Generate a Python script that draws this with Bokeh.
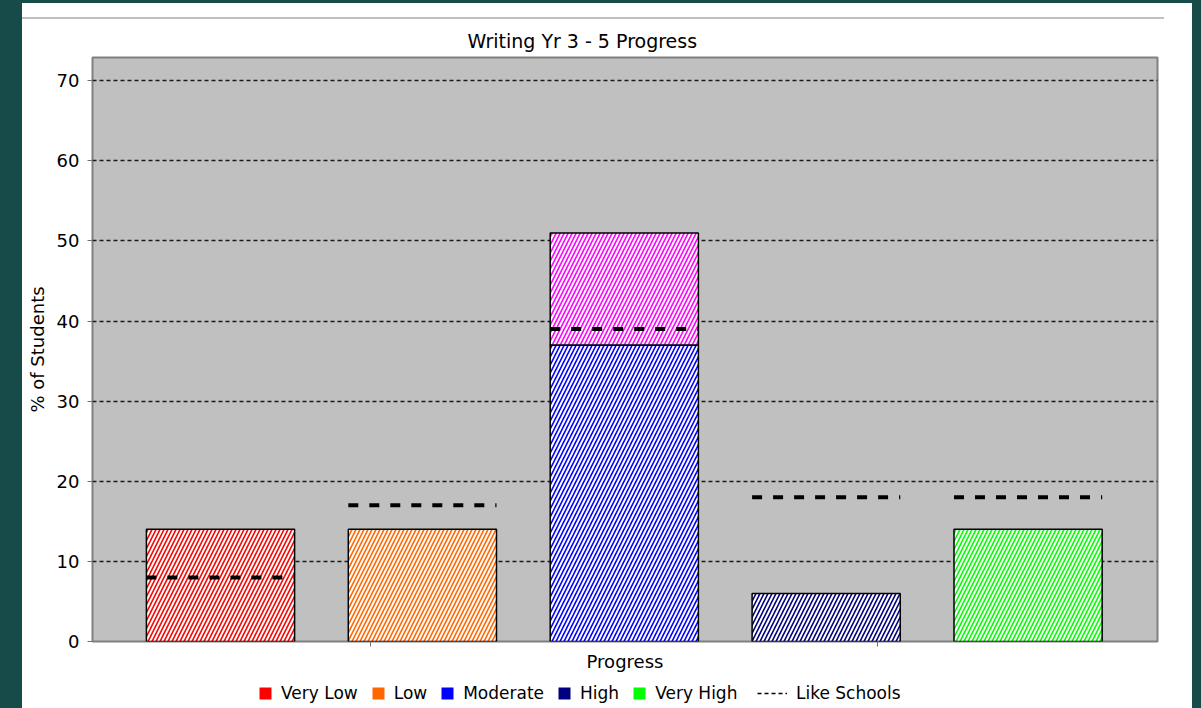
from bokeh.plotting import figure
from bokeh.models import (Range1d, FixedTicker, Legend, LegendItem, Title, Div,
                          GlobalInlineStyleSheet, ColumnDataSource)
from bokeh.layouts import column
from bokeh.embed import file_html
from bokeh.resources import INLINE

# ---- data ----
categories = ["Very Low", "Low", "Moderate", "High", "Very High"]
school_pct = [14, 14, 37, 6, 14]
upper_pct = [0, 0, 14, 0, 0]
like_schools = [8, 17, 39, 18, 18]
bar_colors = ["#ff0000", "#ff6600", "#0000ff", "#000080", "#00ff00"]
upper_color = "#ff00ff"
y_ticks = [0, 10, 20, 30, 40, 50, 60, 70]
grid_ticks = [10, 20, 30, 40, 50, 60, 70]
x_tick_marks = [0.743, 3.254]
legend_label = "Like Schools"

FONT = "DejaVu Sans"
BAR_W = 0.734
xs = list(range(len(categories)))

p = figure(width=1170, height=659, output_backend="svg", toolbar_location=None,
           x_range=Range1d(-0.634, 4.641), y_range=Range1d(0, 72.9),
           min_border_left=70, min_border_right=35, min_border_top=38, min_border_bottom=37,
           background_fill_color="#c0c0c0", border_fill_color="white",
           outline_line_color="#808080", outline_line_width=2)

p.title = Title(text="Writing Yr 3 - 5 Progress", align="left", offset=375,
                text_font=FONT, text_font_size="19px", text_font_style="normal",
                text_color="black", standoff=11)

# grid
p.xgrid.visible = False
p.ygrid.ticker = FixedTicker(ticks=grid_ticks)
p.ygrid.grid_line_color = "#1a1a1a"
p.ygrid.grid_line_dash = "4 3"
p.ygrid.grid_line_width = 1.5

HATCH = dict(hatch_pattern="/", hatch_color="white", hatch_scale=8, hatch_weight=2)

# bars
src = ColumnDataSource(dict(x=xs, top=school_pct, color=bar_colors))
p.vbar(x="x", top="top", bottom=0, width=BAR_W, source=src,
       fill_color="color", line_color="black", line_width=1.5, **HATCH)

ux = [x for x, u in zip(xs, upper_pct) if u > 0]
ub = [s for s, u in zip(school_pct, upper_pct) if u > 0]
ut = [s + u for s, u in zip(school_pct, upper_pct) if u > 0]
p.vbar(x=ux, bottom=ub, top=ut, width=BAR_W, fill_color=upper_color,
       line_color="black", line_width=1.5, **HATCH)

# like schools markers
p.segment(x0=[x - BAR_W / 2 for x in xs], y0=like_schools,
          x1=[x + BAR_W / 2 for x in xs], y1=like_schools,
          line_color="black", line_width=4, line_dash="10 11")

# axes
xa = p.xaxis[0]
xa.ticker = FixedTicker(ticks=[], minor_ticks=x_tick_marks)
xa.major_tick_out = 5
xa.major_tick_in = 0
xa.minor_tick_out = 5
xa.minor_tick_in = 0
xa.minor_tick_line_color = "#707070"
xa.major_tick_line_color = "#707070"
xa.axis_line_color = None
xa.axis_label = "Progress"
xa.axis_label_text_font = FONT
xa.axis_label_text_font_size = "18px"
xa.axis_label_text_font_style = "normal"
xa.axis_label_text_color = "black"
xa.axis_label_standoff = 4

ya = p.yaxis[0]
ya.ticker = FixedTicker(ticks=y_ticks)
ya.major_label_text_font = FONT
ya.major_label_text_font_size = "18px"
ya.major_label_text_color = "black"
ya.major_label_standoff = 8
ya.major_tick_out = 5
ya.major_tick_in = 0
ya.major_tick_line_color = "#707070"
ya.minor_tick_line_color = None
ya.axis_line_color = None
ya.axis_label = "% of Students"
ya.axis_label_text_font = FONT
ya.axis_label_text_font_size = "18px"
ya.axis_label_text_font_style = "normal"
ya.axis_label_text_color = "black"
ya.axis_label_standoff = 6

# ---- legend strip (separate small figure; frame aligned with main frame) ----
lg = figure(width=1170, height=30, output_backend="svg", toolbar_location=None,
            x_range=Range1d(0, 1), y_range=Range1d(0, 1),
            x_axis_location=None, y_axis_location=None,
            min_border=0, outline_line_color=None,
            background_fill_color="white", border_fill_color="white")
lg.grid.visible = False

# legend proxies: one point each, placed outside the strip's visible range
sq_items = []
for cat, col in zip(categories, bar_colors):
    r = lg.scatter(x=[-1], y=[-1], marker="square", size=12, fill_color=col, line_color=None)
    sq_items.append(LegendItem(label=cat, renderers=[r]))
lr = lg.line(x=[-2, -1], y=[-1, -1], line_color="black", line_width=1.5, line_dash="4 3")

LEG = dict(orientation="horizontal", glyph_width=30, glyph_height=30,
           padding=0, margin=0, border_line_color=None, background_fill_alpha=0,
           label_text_font=FONT, label_text_font_size="17px", label_text_color="black")
leg_a = Legend(items=sq_items, location=(158, 0), label_standoff=1, spacing=5, **LEG)
leg_b = Legend(items=[LegendItem(label=legend_label, renderers=[lr])],
               location=(665, 0), label_standoff=9, spacing=0, **LEG)
lg.add_layout(leg_a, "center")
lg.add_layout(leg_b, "center")

top_rule = Div(text="", width=1142, height=16,
               styles={"border-bottom": "2px solid #c0c0c0", "box-sizing": "border-box",
                       "padding": "0", "margin": "0"})

layout = column(top_rule, p, lg, margin=(3, 0, 0, 22),
                styles={"background-color": "white"})
layout.stylesheets = [GlobalInlineStyleSheet(
    css="html, body { margin: 0; padding: 0; background: #164b4a; overflow: hidden; }")]

open("out.html", "w").write(file_html(layout, INLINE))
